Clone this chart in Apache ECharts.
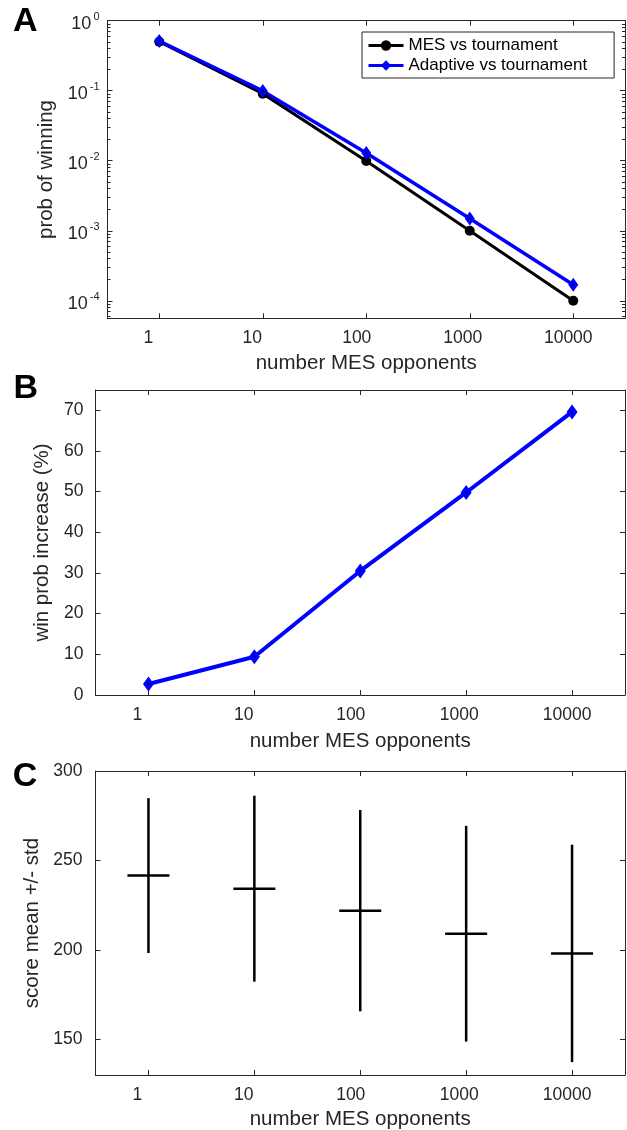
<!DOCTYPE html>
<html><head><meta charset="utf-8">
<script src="https://cdn.jsdelivr.net/npm/echarts@6/dist/echarts.min.js"></script>
<style>html,body{margin:0;padding:0;background:#fff}#c{width:627px;height:1130px}</style>
</head><body><div id="c"></div>
<script>
// ---- data ----
const opponents = [1, 10, 100, 1000, 10000];
const xTickLabels = ['1', '10', '100', '1000', '10000'];
const mesWinProb = [0.5, 0.0909, 0.0099, 0.001, 0.0001];
const adaptiveWinProb = [0.513, 0.0995, 0.0129, 0.0015, 0.00017];
const winProbIncrease = [2.7, 9.4, 30.5, 49.8, 69.6];
const scoreMean = [241.5, 234.2, 221.9, 209.0, 198.0];
const scoreStd = [43.3, 52.0, 56.3, 60.3, 60.8];
const yTicksC = [150, 200, 250, 300];
const seriesNames = ['MES vs tournament', 'Adaptive vs tournament'];

// ---- style ----
const FONT = "'Liberation Sans', Arial, Helvetica, sans-serif";
const AX = '#262626';
const XMIN = Math.pow(10, -0.5), XMAX = Math.pow(10, 4.5);
const YMIN_A = Math.pow(10, -4.25), YMAX_A = 1;
const labelShift = [11, 10.5, 9.5, 7, 5];

// minor tick positions of the log y axis (expressed as decades, for a decoration-only axis)
const minorDecades = [];
for (let k = -5; k <= -1; k++) for (let m = 2; m <= 9; m++) {
  const d = Math.log10(m * Math.pow(10, k));
  if (d > -4.25 && d < 0) minorDecades.push(d);
}

const xRich = {};
labelShift.forEach((s, i) => { xRich['o' + i] = { padding: [0, 2 * s, 0, 0] }; });
function xFmt(v) {
  const l = Math.log10(v), e = Math.round(l);
  if (Math.abs(l - e) > 1e-6 || e < 0 || e >= xTickLabels.length) return '';
  return '{o' + e + '|' + xTickLabels[e] + '}';
}
function yFmtA(v) {
  const l = Math.log10(v), e = Math.round(l);
  if (Math.abs(l - e) > 1e-6) return '';
  return '{b|10}{e|' + e + '}';
}

const nameStyle = { color: AX, fontFamily: FONT, fontSize: 20.5 };
const lbl = { color: AX, fontFamily: FONT, fontSize: 17.5 };
const tick = (len) => ({ show: true, inside: true, length: len, lineStyle: { color: AX, width: 1 } });
const line = { show: true, onZero: false, lineStyle: { color: AX, width: 1 } };

function xBottom(gi, nameGap) {
  return { gridIndex: gi, type: 'log', logBase: 10, min: XMIN, max: XMAX, position: 'bottom',
    axisLine: line, axisTick: tick(5), splitLine: { show: false },
    axisLabel: Object.assign({ margin: 11, formatter: xFmt, rich: xRich, showMinLabel: false, showMaxLabel: false }, lbl),
    name: 'number MES opponents', nameLocation: 'middle', nameGap: nameGap, nameTextStyle: nameStyle };
}
function xTop(gi) {
  return { gridIndex: gi, type: 'log', logBase: 10, min: XMIN, max: XMAX, position: 'top',
    axisLine: line, axisTick: tick(5), axisLabel: { show: false }, splitLine: { show: false } };
}
function minorAxis(pos) {
  return { gridIndex: 0, type: 'value', min: -4.25, max: 0, position: pos,
    axisLine: { show: false }, axisLabel: { show: false }, splitLine: { show: false },
    axisTick: Object.assign(tick(3), { customValues: minorDecades }) };
}

const grids = [
  { left: 107.5, top: 20.7, width: 517.5, height: 297.6 },
  { left: 95.5, top: 390, width: 529.5, height: 305 },
  { left: 95.5, top: 771, width: 529.5, height: 304 }
].map(g => Object.assign({ containLabel: false, outerBoundsMode: 'none' }, g));

const xAxis = [xBottom(0, 34.5), xTop(0), xBottom(1, 35.5), xTop(1), xBottom(2, 33.5), xTop(2)];

const yAxis = [
  // A left (labels + major)
  { gridIndex: 0, type: 'log', logBase: 10, min: YMIN_A, max: YMAX_A, position: 'left',
    axisLine: line, axisTick: tick(5), splitLine: { show: false },
    axisLabel: Object.assign({ margin: 8, formatter: yFmtA, showMinLabel: false,
      rich: { b: { fontSize: 18, padding: [6, 0, 0, 0] }, e: { fontSize: 11, padding: [0, 0, 8, 2] } } }, lbl),
    name: 'prob of winning', nameLocation: 'middle', nameGap: 49, nameTextStyle: nameStyle },
  minorAxis('left'),
  // A right
  { gridIndex: 0, type: 'log', logBase: 10, min: YMIN_A, max: YMAX_A, position: 'right',
    axisLine: line, axisTick: tick(5), axisLabel: { show: false }, splitLine: { show: false } },
  minorAxis('right'),
  // B left
  { gridIndex: 1, type: 'value', min: 0, max: 75, interval: 10, position: 'left',
    axisLine: line, axisTick: tick(5), splitLine: { show: false },
    axisLabel: Object.assign({ margin: 12, showMaxLabel: false }, lbl),
    name: 'win prob increase (%)', nameLocation: 'middle', nameGap: 35, nameTextStyle: nameStyle },
  // B right
  { gridIndex: 1, type: 'value', min: 0, max: 75, interval: 10, position: 'right',
    axisLine: line, axisTick: tick(5), axisLabel: { show: false }, splitLine: { show: false } },
  // C left
  { gridIndex: 2, type: 'value', min: 130, max: 300, position: 'left',
    axisLine: line, splitLine: { show: false },
    axisTick: Object.assign(tick(5), { customValues: yTicksC }),
    axisLabel: Object.assign({ margin: 13, customValues: yTicksC }, lbl),
    name: 'score mean +/- std', nameLocation: 'middle', nameGap: 50.5, nameTextStyle: nameStyle },
  // C right
  { gridIndex: 2, type: 'value', min: 130, max: 300, position: 'right',
    axisLine: line, splitLine: { show: false }, axisLabel: { show: false },
    axisTick: Object.assign(tick(5), { customValues: yTicksC }) }
];

const pairs = (ys) => opponents.map((x, i) => [x, ys[i]]);
const dot = (xi, yi, ys) => ({ type: 'scatter', xAxisIndex: xi, yAxisIndex: yi, data: pairs(ys),
  symbol: 'circle', symbolSize: 2, itemStyle: { color: '#000' }, silent: true, z: 5 });

const series = [
  { name: seriesNames[0], type: 'line', xAxisIndex: 0, yAxisIndex: 0, data: pairs(mesWinProb),
    symbol: 'circle', symbolSize: 10, showSymbol: true,
    lineStyle: { color: '#000', width: 3 }, itemStyle: { color: '#000', borderWidth: 0 } },
  { name: seriesNames[1], type: 'line', xAxisIndex: 0, yAxisIndex: 0, data: pairs(adaptiveWinProb),
    symbol: 'diamond', symbolSize: [10, 14], showSymbol: true,
    lineStyle: { color: '#0000ff', width: 3.5 }, itemStyle: { color: '#0000ff', borderWidth: 0 } },
  dot(0, 0, adaptiveWinProb),
  { name: 'increase', type: 'line', xAxisIndex: 2, yAxisIndex: 4, data: pairs(winProbIncrease),
    symbol: 'diamond', symbolSize: [11, 15], showSymbol: true,
    lineStyle: { color: '#0000ff', width: 4 }, itemStyle: { color: '#0000ff', borderWidth: 0 } },
  dot(2, 4, winProbIncrease),
  { name: 'score', type: 'custom', xAxisIndex: 4, yAxisIndex: 6,
    data: opponents.map((x, i) => [x, scoreMean[i], scoreStd[i]]),
    encode: { x: 0, y: 1 },
    renderItem: function (params, api) {
      const x = api.value(0), m = api.value(1), s = api.value(2);
      const t = api.coord([x, m + s]), b = api.coord([x, m - s]), c = api.coord([x, m]);
      const hw = 21;
      return { type: 'group', children: [
        { type: 'line', shape: { x1: t[0], y1: t[1], x2: b[0], y2: b[1] }, style: { stroke: '#000', lineWidth: 2.5 } },
        { type: 'line', shape: { x1: c[0] - hw, y1: c[1], x2: c[0] + hw, y2: c[1] }, style: { stroke: '#000', lineWidth: 2.5 } }
      ] };
    } }
];

const panelLetter = (txt, x, y) => ({ type: 'text', x: x, y: y,
  style: { text: txt, fill: '#000', font: 'bold 34px ' + FONT, textAlign: 'center', textVerticalAlign: 'middle' } });

const chart = echarts.init(document.getElementById('c'), null, { renderer: 'canvas' });
chart.setOption({
  animation: false,
  backgroundColor: '#fff',
  grid: grids,
  xAxis: xAxis,
  yAxis: yAxis,
  legend: { data: seriesNames, orient: 'vertical', left: 362, top: 32, padding: [5, 27, 4, 5],
    itemWidth: 35, itemHeight: 13, itemGap: 3, backgroundColor: '#fff', borderColor: AX, borderWidth: 1,
    borderRadius: 0, lineStyle: { width: 3 },
    textStyle: { color: '#000', fontFamily: FONT, fontSize: 17 } },
  graphic: [panelLetter('A', 25.2, 22), panelLetter('B', 25.8, 389), panelLetter('C', 25, 776.7)],
  series: series
});
</script></body></html>
